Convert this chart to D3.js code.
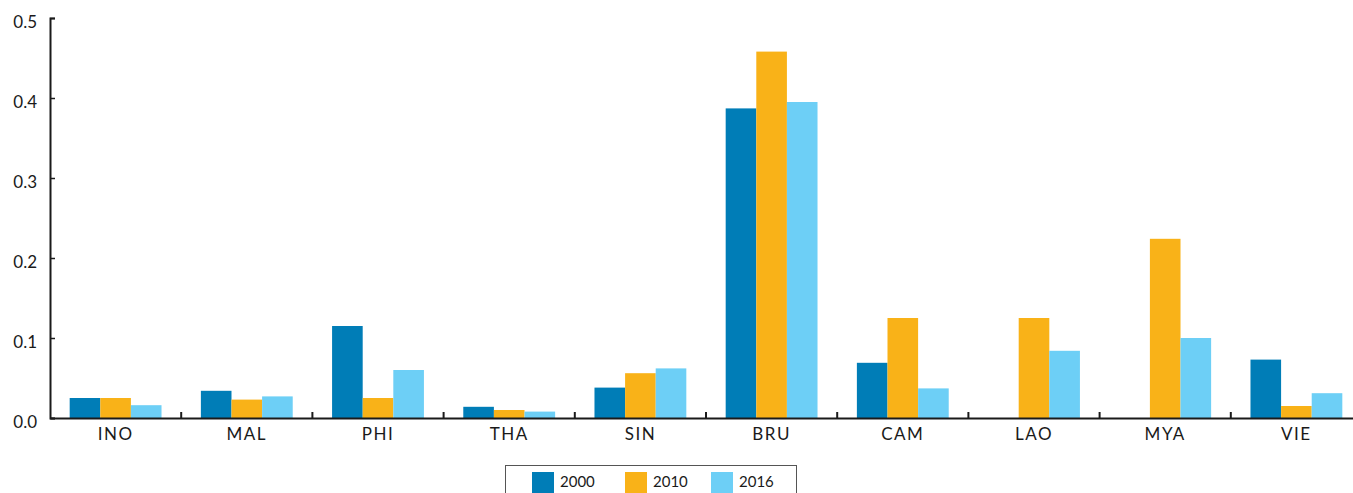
<!DOCTYPE html>
<html>
  <head>
    <meta charset="utf-8">
    <title>D3</title>
    <script src="https://d3js.org/d3.v7.min.js"></script>
    <style>
      body { margin: 0; background: #fff; }
      text { font-family: Lato, "Open Sans", sans-serif; fill: #1a1a1a; }
    </style>
  </head>
  <body>
    <script type="text/javascript">
      var categories = ['INO', 'MAL', 'PHI', 'THA', 'SIN', 'BRU', 'CAM', 'LAO', 'MYA', 'VIE'];
      var years = ['2000', '2010', '2016'];
      var v2000 = [0.025, 0.034, 0.115, 0.014, 0.038, 0.387, 0.069, 0, 0, 0.073];
      var v2010 = [0.025, 0.023, 0.025, 0.010, 0.056, 0.458, 0.125, 0.125, 0.224, 0.015];
      var v2016 = [0.016, 0.027, 0.060, 0.008, 0.062, 0.395, 0.037, 0.084, 0.100, 0.031];
      var yTicks = [0, 0.1, 0.2, 0.3, 0.4, 0.5];
      var colors = ['#007db7', '#f9b218', '#6dcff6'];

      var series = [v2000, v2010, v2016];

      var width = 1353, height = 493;
      var svg = d3.select('body')
                  .append('svg')
                  .attr('width', width)
                  .attr('height', height);

      var x = d3.scaleBand()
                .domain(categories)
                .range([50, 1362]);
      var x1 = d3.scaleBand()
                 .domain(years)
                 .range([x.bandwidth() * 0.15, x.bandwidth() * 0.85]);
      var y = d3.scaleLinear()
                .domain([0, 0.5])
                .range([418, 18]);

      // bars
      var groups = svg.selectAll('g.cat')
                      .data(categories)
                      .enter()
                        .append('g')
                        .attr('class', 'cat')
                        .attr('transform', function(d) { return 'translate(' + x(d) + ',0)'; });
      groups.selectAll('rect')
            .data(function(d, i) { return years.map(function(yr, j) { return {yr: yr, v: series[j][i], j: j}; }); })
            .enter()
              .append('rect')
              .attr('x', function(d) { return x1(d.yr); })
              .attr('width', x1.bandwidth())
              .attr('y', function(d) { return y(d.v); })
              .attr('height', function(d) { return y(0) - y(d.v); })
              .attr('fill', function(d) { return colors[d.j]; });

      // y axis
      var yAxis = d3.axisLeft(y)
                    .tickValues(yTicks)
                    .tickFormat(d3.format('.1f'))
                    .tickSizeInner(-5)
                    .tickSizeOuter(-5)
                    .tickPadding(13);
      var gy = svg.append('g')
                  .attr('transform', 'translate(50,0)')
                  .call(yAxis);
      gy.select('.domain').attr('stroke', '#1a1a1a').attr('stroke-width', 2);
      gy.selectAll('.tick line').attr('stroke', '#1a1a1a').attr('stroke-width', 1.5);
      gy.selectAll('.tick text')
        .attr('dy', '0.55em')
        .style('font-size', '17px')
        .style('font-family', 'Lato, sans-serif')
        .attr('fill', '#1a1a1a');

      // x axis
      var xAxis = d3.axisBottom(x).tickSize(0).tickPadding(10);
      var gx = svg.append('g')
                  .attr('transform', 'translate(0,' + y(0) + ')')
                  .call(xAxis);
      gx.select('.domain').attr('stroke', '#1a1a1a').attr('stroke-width', 2);
      gx.selectAll('.tick text')
        .style('font-size', '17px')
        .style('font-family', 'Lato, sans-serif')
        .style('letter-spacing', '1.5px')
        .attr('fill', '#1a1a1a');
      gx.selectAll('line.sep')
        .data(categories.slice(1))
        .enter()
          .append('line')
          .attr('class', 'sep')
          .attr('x1', function(d) { return x(d); })
          .attr('x2', function(d) { return x(d); })
          .attr('y1', 0)
          .attr('y2', -6)
          .attr('stroke', '#1a1a1a')
          .attr('stroke-width', 2);

      // legend
      var legend = svg.append('g');
      legend.append('rect')
            .attr('x', 505.5)
            .attr('y', 465.5)
            .attr('width', 291)
            .attr('height', 40)
            .attr('fill', 'none')
            .attr('stroke', '#555')
            .attr('stroke-width', 1);
      var lx = [532, 625, 711];
      var items = legend.selectAll('g.item')
                        .data(years)
                        .enter()
                          .append('g')
                          .attr('transform', function(d, i) { return 'translate(' + lx[i] + ',472)'; });
      items.append('rect')
           .attr('width', 22)
           .attr('height', 22)
           .attr('fill', function(d, i) { return colors[i]; });
      items.append('text')
           .attr('x', 28)
           .attr('y', 15)
           .style('font-size', '15px')
           .text(function(d) { return d; });
    </script>
  </body>
</html>
